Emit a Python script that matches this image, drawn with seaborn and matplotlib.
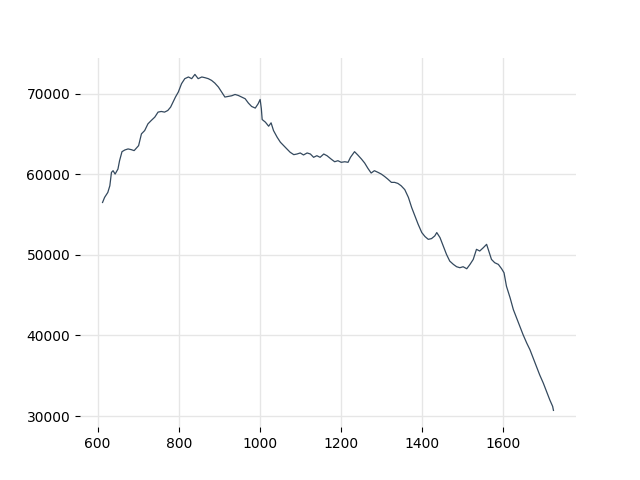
import matplotlib
matplotlib.use("Agg")
import matplotlib.pyplot as plt
import seaborn as sns
import pandas as pd

x_vals = [612, 617, 625, 630, 634, 638, 643, 650, 654, 660, 667, 675, 683, 690, 695, 701,
          708, 716, 724, 732, 741, 749, 757, 765, 773, 780, 786, 792, 799, 807, 815, 824,
          832, 840, 848, 857, 865, 873, 881, 889, 898, 906, 914, 922, 931, 939, 947, 955,
          964, 972, 980, 989, 996, 1001, 1004, 1006, 1014, 1022, 1028, 1034, 1043, 1051,
          1059, 1067, 1075, 1084, 1092, 1100, 1108, 1117, 1125, 1133, 1141, 1149, 1158,
          1166, 1177, 1185, 1193, 1201, 1210, 1218, 1224, 1234, 1242, 1251, 1259, 1267,
          1275, 1283, 1292, 1300, 1308, 1316, 1325, 1333, 1341, 1349, 1358, 1367, 1375,
          1383, 1391, 1400, 1408, 1416, 1424, 1432, 1437, 1445, 1453, 1461, 1469, 1478,
          1486, 1494, 1502, 1511, 1519, 1527, 1535, 1543, 1552, 1560, 1564, 1572, 1580,
          1589, 1597, 1603, 1609, 1618, 1626, 1634, 1642, 1650, 1659, 1667, 1675, 1683,
          1691, 1700, 1708, 1716, 1723, 1725]
y_vals = [56505, 57130, 57750, 58580, 60240, 60450, 60030, 60650, 61690, 62810, 63020, 63150,
          63060, 62940, 63230, 63560, 65020, 65430, 66260, 66670, 67100, 67720, 67800, 67720,
          67920, 68340, 68960, 69590, 70210, 71250, 71870, 72080, 71870, 72400, 71870, 72080,
          71990, 71870, 71660, 71330, 70830, 70210, 69590, 69660, 69750, 69910, 69790, 69590,
          69380, 68840, 68420, 68220, 68750, 69290, 68130, 66800, 66470, 65970, 66390, 65430,
          64600, 63980, 63560, 63150, 62740, 62440, 62520, 62650, 62400, 62650, 62520, 62110,
          62310, 62110, 62520, 62310, 61860, 61560, 61690, 61490, 61560, 61490, 62110, 62810,
          62400, 61900, 61400, 60740, 60160, 60450, 60240, 60030, 59740, 59410, 59000, 59000,
          58870, 58580, 58100, 57130, 55880, 54840, 53800, 52770, 52270, 51930, 52020, 52350,
          52770, 52140, 51100, 50060, 49230, 48820, 48530, 48410, 48530, 48280, 48820, 49440,
          50690, 50480, 50900, 51310, 50690, 49440, 49030, 48820, 48280, 47780, 46110, 44670,
          43210, 42180, 41130, 40100, 39060, 38230, 37190, 36150, 35110, 34080, 33030, 32000,
          31200, 30700]

df = pd.DataFrame({"x": x_vals, "y": y_vals})

fig, ax = plt.subplots(figsize=(6.4, 4.8), dpi=100)
sns.lineplot(data=df, x="x", y="y", color="#34495e", linewidth=0.9, ax=ax)
ax.set_xlabel("")
ax.set_ylabel("")
ax.grid(True, color="#e6e6e6", linewidth=1)
ax.set_axisbelow(True)
for s in ax.spines.values():
    s.set_visible(False)
ax.set_xticks([600, 800, 1000, 1200, 1400, 1600])
ax.set_yticks([30000, 40000, 50000, 60000, 70000])
fig.savefig("out.png", dpi=100)
